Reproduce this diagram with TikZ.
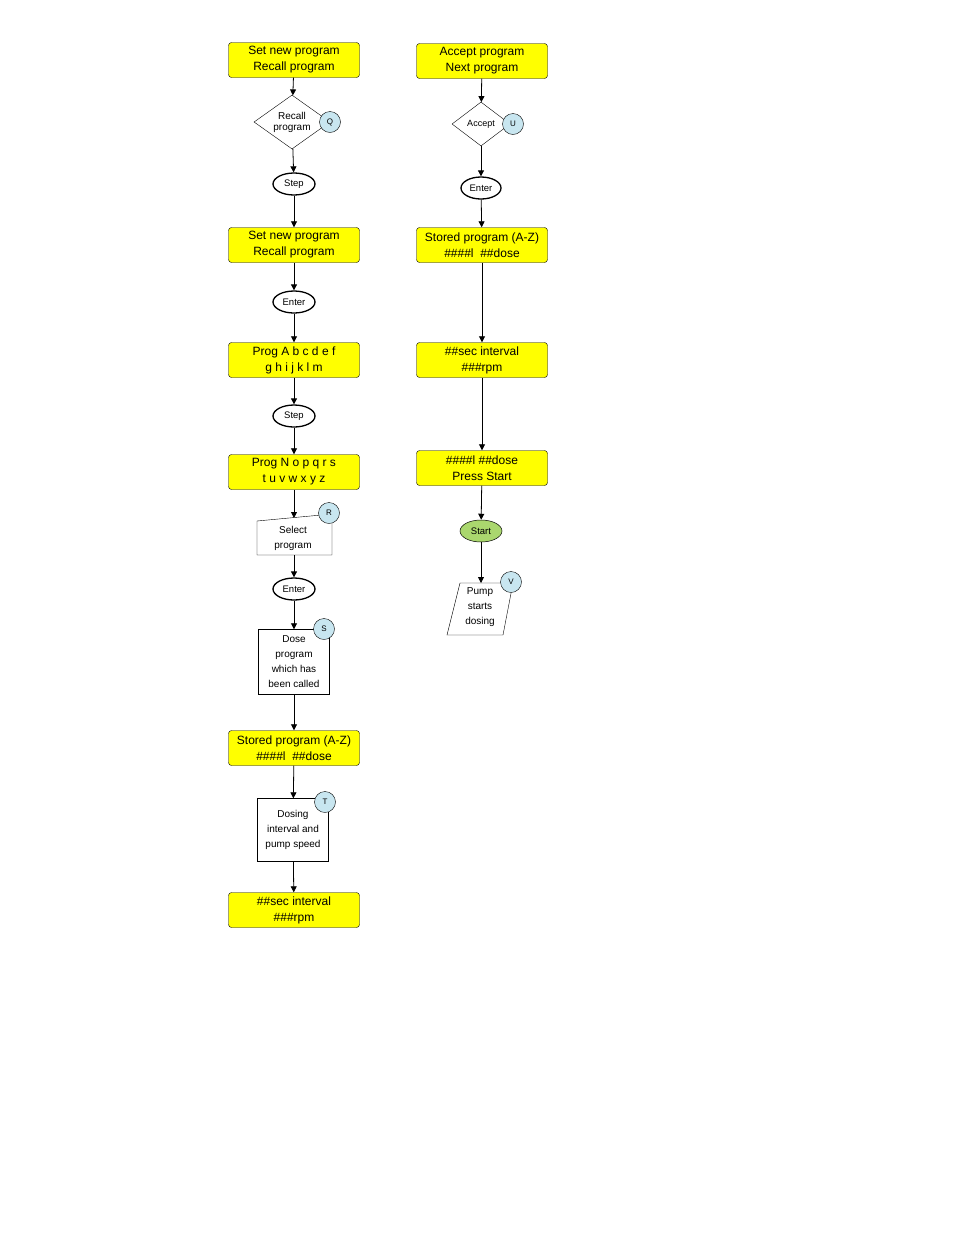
\documentclass[tikz,border=0pt]{standalone}
\usepackage{fontspec}
\setmainfont{Liberation Sans}
\usetikzlibrary{shapes.geometric,arrows.meta}
\definecolor{ylw}{RGB}{255,255,0}
\definecolor{lblue}{RGB}{200,230,240}
\definecolor{lgreen}{RGB}{170,215,110}
\begin{document}
\begin{tikzpicture}[x=1pt,y=-1pt,
 ybox/.style={draw,fill=ylw,rounded corners=3pt,minimum width=131pt,minimum height=35pt,align=center,font=\fontsize{12}{16}\selectfont,inner sep=1pt},
 oval/.style={draw,ellipse,line width=1.3pt,minimum width=42pt,minimum height=22pt,inner sep=0pt,font=\fontsize{9.5}{11}\selectfont},
 dia/.style={draw,diamond,aspect=1.4,inner sep=0pt,align=center,font=\fontsize{10}{11}\selectfont},
 lbl/.style={draw,circle,fill=lblue,minimum size=21pt,inner sep=0pt,font=\fontsize{8}{9}\selectfont},
 tbox/.style={draw,align=center,font=\fontsize{10}{15}\selectfont,inner sep=1pt},
 arr/.style={-{Triangle[length=6pt,width=6pt]},thick}]
\useasboundingbox (0,0) rectangle (954,1235);
% left column
\node[ybox] (a1) at (294,60) {Set new program\\Recall program};
\node[dia,minimum width=76pt,minimum height=54pt] (d1) at (292,122) {Recall\\program};
\node[lbl] (q) at (330,122) {Q};
\node[oval] (s1) at (294,184) {Step};
\node[ybox] (a2) at (294,245) {Set new program\\Recall program};
\node[oval] (e1) at (294,302) {Enter};
\node[ybox] (a3) at (294,360) {Prog A b c d e f\\g h i j k l m};
\node[oval] (s2) at (294,416) {Step};
\node[ybox] (a4) at (294,472) {Prog N o p q r s\\t u v w x y z};
\draw (257,521) -- (332,514) -- (332,555) -- (257,555) -- cycle;
\coordinate (selT) at (294,518);
\node[tbox,draw=none] (sel) at (293,538) {Select\\program};
\node[lbl] (r) at (329,513) {R};
\node[oval] (e2) at (294,589) {Enter};
\node[tbox,minimum width=71pt,minimum height=65pt] (dose) at (294,662) {Dose\\program\\which has\\been called};
\node[lbl] (s) at (324,629) {S};
\node[ybox] (a5) at (294,748) {Stored program (A-Z)\\\#\#\#\#l \ \#\#dose};
\node[tbox,minimum width=71pt,minimum height=63pt] (dsg) at (293,830) {Dosing\\interval and\\pump speed};
\node[lbl] (t) at (325,802) {T};
\node[ybox] (a6) at (294,910) {\#\#sec interval\\\#\#\#rpm};
\coordinate (selB) at (294,555);
\draw[arr] (a1) -- (d1);
\draw[arr] (d1) -- (s1);
\draw[arr] (s1) -- (a2);
\draw[arr] (a2) -- (e1);
\draw[arr] (e1) -- (a3);
\draw[arr] (a3) -- (s2);
\draw[arr] (s2) -- (a4);
\draw[arr] (a4) -- (selT);
\draw[arr] (selB) -- (e2);
\draw[arr] (e2) -- (dose);
\draw[arr] (dose) -- (a5);
\draw[arr] (a5) -- (dsg);
\draw[arr] (dsg) -- (a6);
% right column
\node[ybox] (b1) at (482,61) {Accept program\\Next program};
\node[dia,minimum width=58pt,minimum height=44pt,font=\fontsize{9}{10}\selectfont] (d2) at (481,124) {Accept};
\node[lbl] (u) at (513,124) {U};
\node[oval,minimum width=40pt] (e3) at (481,188) {Enter};
\node[ybox] (b2) at (482,245) {Stored program (A-Z)\\\#\#\#\#l \ \#\#dose};
\node[ybox] (b3) at (482,360) {\#\#sec interval\\\#\#\#rpm};
\node[ybox] (b4) at (482,468) {\#\#\#\#l \#\#dose\\Press Start};
\node[oval,line width=0.5pt,fill=lgreen] (st) at (481,531) {Start};
\draw (460,583) -- (513,583) -- (503,635) -- (447,635) -- cycle;
\node[tbox,draw=none] (pump) at (480,607) {Pump\\starts\\dosing};
\coordinate (pT) at (481,583);
\node[lbl] (v) at (511,582) {V};
\draw[arr] (b1) -- (d2);
\draw[arr] (d2) -- (e3);
\draw[arr] (e3) -- (b2);
\draw[arr] (b2) -- (b3);
\draw[arr] (b3) -- (b4);
\draw[arr] (b4) -- (st);
\draw[arr] (st) -- (pT);
\end{tikzpicture}
\end{document}
